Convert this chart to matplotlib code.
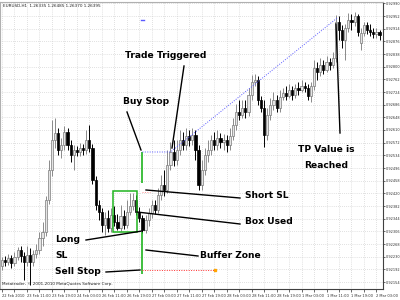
import matplotlib
matplotlib.use("Agg")
import matplotlib.pyplot as plt
from matplotlib.lines import Line2D
from matplotlib.patches import Rectangle
import numpy as np

# hourly candles
opens = [0.92202, 0.92220, 0.92214, 0.92226, 0.92211, 0.92229, 0.92250, 0.92232, 0.92214, 0.92235,
         0.92214, 0.92238, 0.92250, 0.92286, 0.92304, 0.92400, 0.92490, 0.92580, 0.92601, 0.92550,
         0.92565, 0.92604, 0.92565, 0.92535, 0.92550, 0.92544, 0.92556, 0.92550, 0.92580, 0.92556,
         0.92460, 0.92385, 0.92364, 0.92325, 0.92346, 0.92316, 0.92355, 0.92334, 0.92316, 0.92352,
         0.92325, 0.92364, 0.92382, 0.92400, 0.92364, 0.92346, 0.92310, 0.92340, 0.92361, 0.92385,
         0.92370, 0.92415, 0.92445, 0.92430, 0.92505, 0.92544, 0.92520, 0.92550, 0.92580, 0.92565,
         0.92592, 0.92580, 0.92595, 0.92550, 0.92445, 0.92490, 0.92535, 0.92550, 0.92580, 0.92565,
         0.92586, 0.92574, 0.92580, 0.92565, 0.92592, 0.92625, 0.92664, 0.92655, 0.92676, 0.92664,
         0.92715, 0.92754, 0.92760, 0.92700, 0.92676, 0.92595, 0.92655, 0.92685, 0.92700, 0.92676,
         0.92709, 0.92721, 0.92712, 0.92730, 0.92715, 0.92736, 0.92730, 0.92742, 0.92736, 0.92712,
         0.92742, 0.92796, 0.92784, 0.92805, 0.92790, 0.92814, 0.92805, 0.92826, 0.92934, 0.92910,
         0.92880, 0.92916, 0.92940, 0.92934, 0.92952, 0.92871, 0.92901, 0.92925, 0.92910, 0.92904,
         0.92898, 0.92904]
highs = [0.92229, 0.92232, 0.92238, 0.92235, 0.92244, 0.92259, 0.92262, 0.92244, 0.92262, 0.92256,
         0.92250, 0.92268, 0.92304, 0.92334, 0.92412, 0.92520, 0.92640, 0.92646, 0.92616, 0.92586,
         0.92622, 0.92616, 0.92580, 0.92565, 0.92562, 0.92571, 0.92568, 0.92610, 0.92625, 0.92568,
         0.92472, 0.92400, 0.92376, 0.92364, 0.92370, 0.92376, 0.92382, 0.92358, 0.92385, 0.92370,
         0.92400, 0.92421, 0.92421, 0.92415, 0.92379, 0.92355, 0.92355, 0.92376, 0.92400, 0.92400,
         0.92436, 0.92475, 0.92490, 0.92550, 0.92574, 0.92580, 0.92580, 0.92610, 0.92604, 0.92616,
         0.92610, 0.92616, 0.92610, 0.92565, 0.92520, 0.92556, 0.92580, 0.92595, 0.92604, 0.92610,
         0.92601, 0.92598, 0.92595, 0.92616, 0.92646, 0.92688, 0.92700, 0.92700, 0.92700, 0.92736,
         0.92775, 0.92778, 0.92772, 0.92712, 0.92700, 0.92676, 0.92706, 0.92724, 0.92715, 0.92730,
         0.92736, 0.92742, 0.92748, 0.92742, 0.92748, 0.92754, 0.92760, 0.92754, 0.92748, 0.92754,
         0.92820, 0.92814, 0.92826, 0.92820, 0.92832, 0.92826, 0.92844, 0.92955, 0.92952, 0.92925,
         0.92928, 0.92961, 0.92958, 0.92964, 0.92958, 0.92916, 0.92934, 0.92934, 0.92928, 0.92916,
         0.92916, 0.92910]
lows = [0.92190, 0.92202, 0.92205, 0.92196, 0.92202, 0.92220, 0.92214, 0.92160, 0.92202, 0.92145,
        0.92202, 0.92226, 0.92238, 0.92262, 0.92292, 0.92388, 0.92472, 0.92556, 0.92535, 0.92526,
        0.92550, 0.92550, 0.92514, 0.92490, 0.92532, 0.92532, 0.92535, 0.92538, 0.92544, 0.92448,
        0.92370, 0.92340, 0.92304, 0.92295, 0.92304, 0.92304, 0.92322, 0.92310, 0.92307, 0.92313,
        0.92316, 0.92355, 0.92370, 0.92355, 0.92334, 0.92301, 0.92301, 0.92322, 0.92346, 0.92358,
        0.92361, 0.92400, 0.92412, 0.92421, 0.92490, 0.92502, 0.92505, 0.92535, 0.92550, 0.92550,
        0.92562, 0.92565, 0.92520, 0.92430, 0.92430, 0.92475, 0.92514, 0.92535, 0.92550, 0.92550,
        0.92556, 0.92550, 0.92544, 0.92550, 0.92580, 0.92610, 0.92640, 0.92646, 0.92646, 0.92652,
        0.92700, 0.92742, 0.92685, 0.92664, 0.92559, 0.92580, 0.92640, 0.92670, 0.92664, 0.92664,
        0.92700, 0.92700, 0.92706, 0.92700, 0.92706, 0.92715, 0.92724, 0.92724, 0.92700, 0.92694,
        0.92730, 0.92760, 0.92772, 0.92778, 0.92784, 0.92790, 0.92796, 0.92814, 0.92880, 0.92856,
        0.92820, 0.92904, 0.92910, 0.92922, 0.92892, 0.92850, 0.92892, 0.92898, 0.92892, 0.92886,
        0.92886, 0.92880]
closes = [0.92220, 0.92214, 0.92226, 0.92211, 0.92229, 0.92250, 0.92232, 0.92214, 0.92235, 0.92214,
          0.92238, 0.92250, 0.92286, 0.92304, 0.92400, 0.92490, 0.92580, 0.92601, 0.92550, 0.92565,
          0.92604, 0.92565, 0.92535, 0.92550, 0.92544, 0.92556, 0.92550, 0.92580, 0.92556, 0.92460,
          0.92385, 0.92364, 0.92325, 0.92346, 0.92316, 0.92355, 0.92334, 0.92316, 0.92352, 0.92325,
          0.92364, 0.92382, 0.92400, 0.92364, 0.92346, 0.92310, 0.92340, 0.92361, 0.92385, 0.92370,
          0.92415, 0.92445, 0.92430, 0.92505, 0.92544, 0.92520, 0.92550, 0.92580, 0.92565, 0.92592,
          0.92580, 0.92595, 0.92550, 0.92445, 0.92490, 0.92535, 0.92550, 0.92580, 0.92565, 0.92586,
          0.92574, 0.92580, 0.92565, 0.92592, 0.92625, 0.92664, 0.92655, 0.92676, 0.92664, 0.92715,
          0.92754, 0.92760, 0.92700, 0.92676, 0.92595, 0.92655, 0.92685, 0.92700, 0.92676, 0.92709,
          0.92721, 0.92712, 0.92730, 0.92715, 0.92736, 0.92730, 0.92742, 0.92736, 0.92712, 0.92742,
          0.92796, 0.92784, 0.92805, 0.92790, 0.92814, 0.92805, 0.92826, 0.92934, 0.92910, 0.92880,
          0.92916, 0.92940, 0.92934, 0.92952, 0.92904, 0.92901, 0.92925, 0.92910, 0.92904, 0.92898,
          0.92904, 0.92895]

time_labels = ["22 Feb 2010", "23 Feb 11:00", "23 Feb 19:00", "24 Feb 03:00",
               "26 Feb 11:00", "26 Feb 19:00", "27 Feb 03:00", "27 Feb 11:00",
               "27 Feb 19:00", "28 Feb 03:00", "28 Feb 11:00", "28 Feb 19:00",
               "1 Mar 03:00", "1 Mar 11:00", "1 Mar 19:00", "2 Mar 03:00"]
price_ticks = [0.92990, 0.92952, 0.92914, 0.92876, 0.92838, 0.92800, 0.92762, 0.92724,
               0.92686, 0.92648, 0.92610, 0.92572, 0.92534, 0.92496, 0.92458, 0.92420,
               0.92382, 0.92344, 0.92306, 0.92268, 0.92230, 0.92192, 0.92154]

# trade levels
buy_stop = 0.92544
sell_stop = 0.92190
short_sl = 0.92424
box_top = 0.92427
box_bottom = 0.92304   # long SL
gap_low = 0.92451
tp_level = 0.92946
entry_bar = 45
box_first, box_last = 35.5, 43.3
trigger_bar = 54
tp_bar = 107.4
sell_end = 68.3

fig = plt.figure(figsize=(4, 3), dpi=100)
ax = fig.add_axes([0, 11 / 300, 383 / 400, 287 / 300])

idx = np.arange(len(opens))
o = np.array(opens)
c = np.array(closes)
bull = c >= o
wick_col = np.where(bull, "#8a8a8a", "black")
ax.vlines(idx, lows, highs, colors=wick_col, lw=0.7, zorder=2)
ax.bar(idx[bull], (c - o)[bull], bottom=o[bull], width=0.7,
       color="#e4e4e4", edgecolor="#7a7a7a", lw=0.5, zorder=3)
ax.bar(idx[~bull], (o - c)[~bull], bottom=c[~bull], width=0.7,
       color="black", edgecolor="black", lw=0.5, zorder=3)

# setup drawings
green = "#1fb41f"
ax.add_patch(Rectangle((box_first, box_bottom), box_last - box_first, box_top - box_bottom,
                       fill=False, ec=green, lw=1.1, zorder=4))
ax.vlines(entry_bar, gap_low, buy_stop, color=green, lw=1.2, zorder=4)
ax.vlines(entry_bar, sell_stop - 0.00012, box_bottom, color=green, lw=1.2, zorder=4)
ax.plot([entry_bar, trigger_bar, tp_bar], [buy_stop, buy_stop, tp_level],
        color="#5a5aff", ls=(0, (1, 1.5)), lw=0.7, zorder=4)
ax.plot([entry_bar - 0.5, entry_bar + 0.5], [tp_level - 0.00006] * 2, color="#5a5aff", lw=1)
ax.plot([entry_bar, sell_end], [sell_stop, sell_stop], color="#ff3030",
        ls=(0, (1, 1.5)), lw=0.7, zorder=4)
ax.plot(sell_end, sell_stop, "s", ms=1.6, color="orange", zorder=5)
ax.plot([entry_bar, entry_bar + 2.5], [short_sl, short_sl], color="#ff9090",
        ls=(0, (1, 1.5)), lw=0.7, zorder=4)

ax.set_xlim(-0.64, 122.1)
ax.set_ylim(0.92133, 0.92994)
ax.set_xticks(np.arange(0, 121, 8))
ax.set_xticklabels(time_labels, fontsize=2.6, ha="left")
ax.set_xticks(np.arange(0, 122, 4), minor=True)
ax.yaxis.tick_right()
ax.set_yticks(price_ticks)
ax.set_yticklabels([f"{p:.5f}" for p in price_ticks], fontsize=2.5)
ax.tick_params(axis="x", which="both", length=2, width=0.5, pad=1.5, colors="#303030")
ax.tick_params(axis="y", length=1.5, width=0.5, pad=0.8, colors="#303030")
ax.grid(which="both", axis="x", color="#c4c4c4", ls=(0, (1, 2)), lw=0.5)
ax.grid(which="major", axis="y", color="#c4c4c4", ls=(0, (1, 2)), lw=0.5)
ax.set_axisbelow(True)
for s in ["top", "left"]:
    ax.spines[s].set_color("#b0b0b0")
    ax.spines[s].set_linewidth(0.8)
for s in ["right", "bottom"]:
    ax.spines[s].set_color("#404040")
    ax.spines[s].set_linewidth(0.8)


def px(x, y):
    return x / 400, 1 - y / 300


fig.text(*px(3, 6), "EURUSD,H1  1.26335 1.26485 1.26370 1.26395", fontsize=3.0,
         va="center", color="#202020")
fig.text(*px(2, 284), "Metatrader, \u00a9 2001-2010 MetaQuotes Software Corp.", fontsize=3.0,
         va="center", color="#202020")

labels = [
    ("Trade Triggered", 125, 55, "left"),
    ("Buy Stop", 123, 101, "left"),
    ("TP Value is", 326, 150, "center"),
    ("Reached", 326, 165, "center"),
    ("Short SL", 245, 195, "left"),
    ("Box Used", 245, 222, "left"),
    ("Long", 55, 240, "left"),
    ("SL", 55, 255, "left"),
    ("Buffer Zone", 200, 256, "left"),
    ("Sell Stop", 55, 272, "left"),
]
for txt, x, y, ha in labels:
    fig.text(*px(x, y), txt, fontsize=6.6, fontweight="bold", ha=ha, va="center")

leaders = [
    (184, 66, 172, 148),
    (127, 112, 141, 150),
    (340, 133, 336, 24),
    (146, 190, 240, 198),
    (137, 212, 240, 224),
    (86, 240, 142, 231),
    (146, 250, 198, 256),
    (106, 272, 140, 270),
]
for x1, y1, x2, y2 in leaders:
    (a, b), (cc, d) = px(x1, y1), px(x2, y2)
    fig.add_artist(Line2D([a, cc], [b, d], transform=fig.transFigure, color="black", lw=1))

fig.savefig("out.png", dpi=100)
